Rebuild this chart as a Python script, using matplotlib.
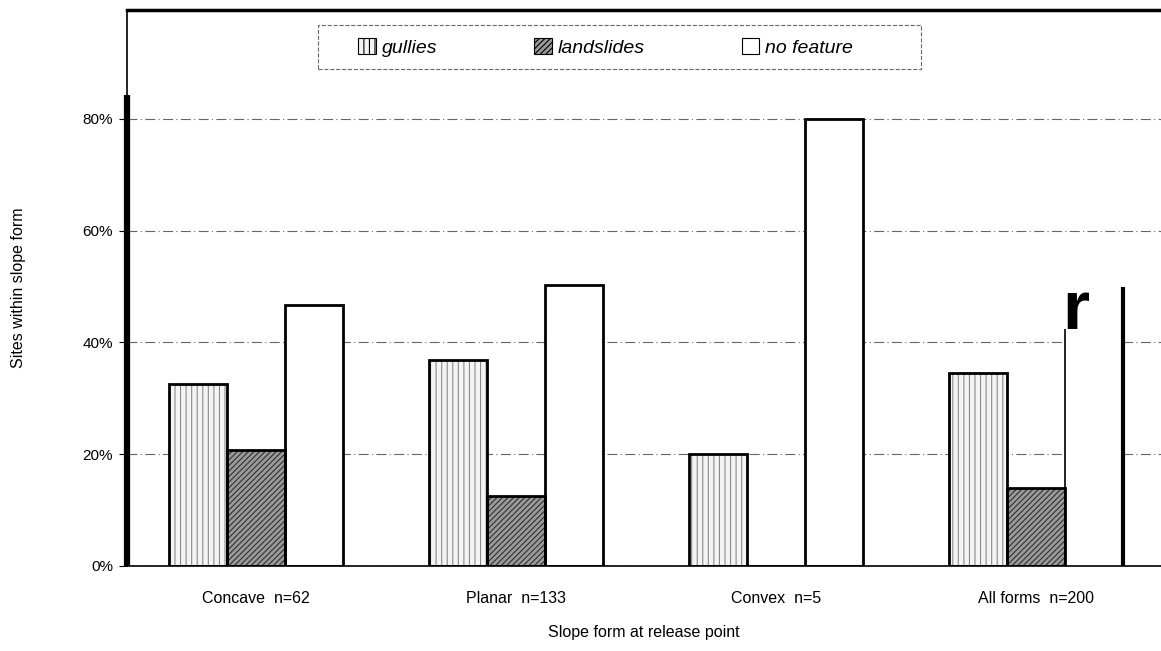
import matplotlib.pyplot as plt
import numpy as np
from matplotlib.patches import Patch, Rectangle

plt.rcParams['font.family'] = ['Liberation Sans', 'DejaVu Sans']
plt.rcParams['hatch.linewidth'] = 0.8

categories = ['Concave  n=62', 'Planar  n=133', 'Convex  n=5', 'All forms  n=200']
gullies = [32.5, 36.8, 20.0, 34.5]
landslides = [20.8, 12.5, 0.0, 14.0]
no_feature = [46.7, 50.3, 80.0, 50.0]
series = ['gullies', 'landslides', 'no feature']

fig = plt.figure(figsize=(11.61, 6.51), dpi=100)
ax = fig.add_axes([0.1094, 0.1306, 0.8906, 0.854])

x = np.arange(len(categories))
w = 0.223
styles = [
    dict(color='#f4f4f4', hatch='|||', hcol='#8a8a8a'),
    dict(color='#9a9a9a', hatch='//////', hcol='#303030'),
    dict(color='white', hatch=None, hcol='white'),
]
r_base = 42.4  # where the scanned "r" artefact sits on the last bar
for i, (vals, st) in enumerate(zip([gullies, landslides, no_feature], styles)):
    pos = x + (i - 1) * w
    ax.bar(pos, vals, w, color=st['color'], hatch=st['hatch'],
           edgecolor=st['hcol'], linewidth=0, zorder=2)
    if i < 2:
        ax.bar(pos, vals, w, fill=False, edgecolor='black', linewidth=2, zorder=3)
    else:
        # last bar of the scan has its top-left outline lost under the "r"
        ax.bar(pos[:-1], vals[:-1], w, fill=False, edgecolor='black', linewidth=2, zorder=3)
        ax.vlines(pos[-1] - w / 2, 0, r_base, color='black', linewidth=1.2, zorder=3)
        ax.vlines(pos[-1] + w / 2, 0, vals[-1], color='black', linewidth=3, zorder=3)

ax.set_xlim(-0.496, 3.48)
ax.set_ylim(0, 99.5)
ax.set_yticks([0, 20, 40, 60, 80])
ax.set_yticklabels(['0%', '20%', '40%', '60%', '80%'], fontsize=11)
ax.set_xticks(x)
ax.set_xticklabels(categories, fontsize=11.5)
ax.tick_params(axis='x', length=0, pad=18)
ax.tick_params(axis='y', length=6, direction='out', pad=4)
ax.yaxis.grid(True, linestyle=(0, (9, 3, 1, 3)), color='#666666', linewidth=0.8, zorder=0)
ax.set_axisbelow(True)

ax.spines['right'].set_visible(False)
ax.spines['left'].set_linewidth(1.2)
ax.spines['top'].set_linewidth(2.5)
ax.spines['bottom'].set_linewidth(1.2)
# heavier lower part of the y axis line
ax.plot([0, 0], [0, 0.847], transform=ax.transAxes, color='black', linewidth=4.5,
        clip_on=False, zorder=5, solid_capstyle='butt')

ax.set_ylabel('Sites within slope form', fontsize=11.5, labelpad=41)
ax.set_xlabel('Slope form at release point', fontsize=11.5, labelpad=14)

# scan artefact near the top of the last bar
ax.text(x[-1] + 0.68 * w, r_base, 'r', fontsize=50, fontweight='bold',
        ha='center', va='baseline', zorder=4)

handles = [Patch(facecolor=st['color'], hatch=st['hatch'], edgecolor='black', linewidth=0.8)
           for st in styles]
leg = ax.legend(handles, series, ncol=3, loc='center', bbox_to_anchor=(0.463, 0.933),
                frameon=False, columnspacing=5.0, handlelength=0.9,
                handleheight=0.9, handletextpad=0.3,
                prop={'style': 'italic', 'size': 14})
ax.add_patch(Rectangle((0.1847, 0.894), 0.583, 0.079, transform=ax.transAxes,
                       fill=False, edgecolor='#666666', linestyle='--', linewidth=0.8))

fig.savefig('out.png', dpi=100)
